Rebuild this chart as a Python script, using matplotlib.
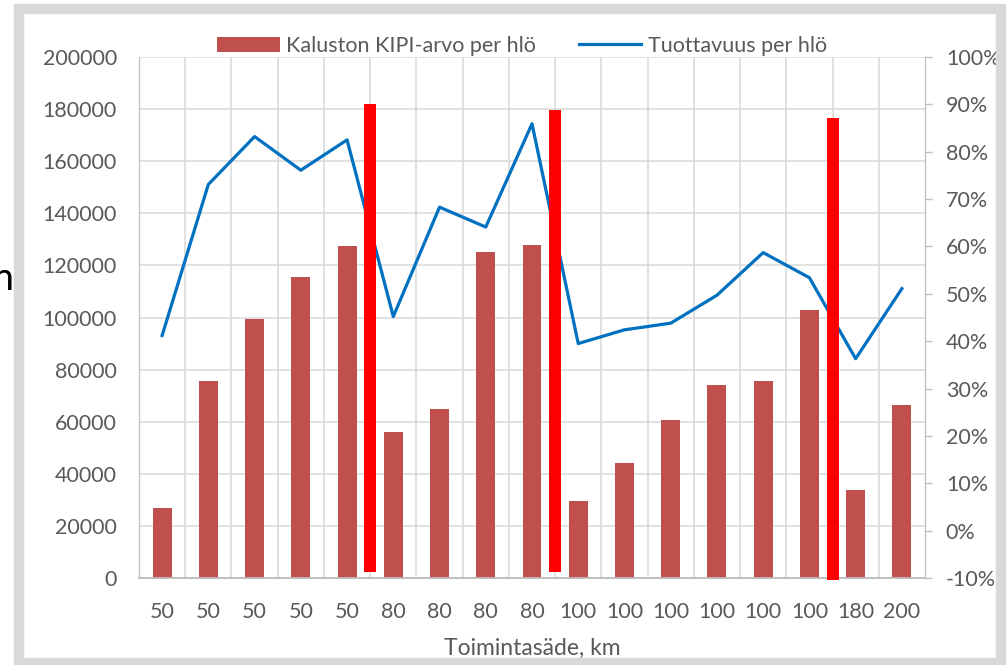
import matplotlib.pyplot as plt
from matplotlib.patches import Rectangle, Patch
from matplotlib.lines import Line2D
from matplotlib.ticker import PercentFormatter

plt.rcParams['font.family'] = ['Lato', 'DejaVu Sans']
plt.rcParams['axes.unicode_minus'] = False

# data
radius_km = ['50', '50', '50', '50', '50', '80', '80', '80', '80',
             '100', '100', '100', '100', '100', '100', '180', '200']
kipi_value = [27000, 75500, 99500, 115500, 127300, 56000, 65000, 125000, 128000,
              29500, 44000, 60500, 74000, 75500, 103000, 33600, 66600]
productivity = [0.412, 0.731, 0.832, 0.761, 0.825, 0.452, 0.683, 0.641, 0.859,
                0.395, 0.424, 0.438, 0.497, 0.587, 0.534, 0.363, 0.511]

# red group separators: placed after category index, top and bottom in left-axis units
sep_after = [4, 8, 14]
sep_top = [182000, 179500, 176700]
sep_bottom = [2200, 2200, -600]

grey_text = '#595959'
grid_col = '#D9D9D9'

fig = plt.figure(figsize=(10.08, 6.65), dpi=100)
ax = fig.add_axes([139 / 1008, 1 - 578 / 665, 786 / 1008, 521 / 665])
ax2 = ax.twinx()

x = list(range(len(radius_km)))
ax.bar(x, kipi_value, width=0.41, color='#C0504D', zorder=3)
ax.set_ylim(0, 200000)
ax.set_yticks(range(0, 200001, 20000))
ax.set_xlim(-0.5, len(radius_km) - 0.5)
ax.set_xticks(x)
ax.set_xticklabels(radius_km)
ax.set_xticks([i + 0.5 for i in x[:-1]], minor=True)

ax.grid(axis='y', which='major', color=grid_col, lw=1.1, zorder=0)
ax.grid(axis='x', which='minor', color=grid_col, lw=1.1, zorder=0)
ax.set_axisbelow(True)
ax.tick_params(axis='both', which='both', length=0, labelsize=15.5, labelcolor=grey_text)
ax.tick_params(axis='y', pad=16)
ax.tick_params(axis='x', pad=17)
ax.set_xlabel('Toimintasäde, km', fontsize=16.5, color=grey_text, labelpad=12)

ax2.plot(x, productivity, color='#0070C0', lw=2.3, zorder=4)
ax2.set_ylim(-0.1, 1.0)
ax2.set_yticks([i / 10 for i in range(-1, 11)])
ax2.yaxis.set_major_formatter(PercentFormatter(1.0, decimals=0))
ax2.tick_params(axis='y', length=5, width=1, color='#BFBFBF', labelsize=15.5,
                labelcolor=grey_text, pad=10)

for a in (ax, ax2):
    a.spines['top'].set_visible(False)
    a.spines['left'].set_color('#BFBFBF')
    a.spines['right'].set_color('#BFBFBF')
    a.spines['bottom'].set_color('#BFBFBF')
    a.spines['bottom'].set_linewidth(1.2)

# red separators drawn on top of the line
ax2.vlines([i + 0.5 for i in sep_after], sep_bottom, sep_top, color='#FF0000',
           lw=8.6, capstyle='butt', transform=ax.transData, zorder=6, clip_on=False)

handles = [Patch(facecolor='#C0504D'), Line2D([], [], color='#0070C0', lw=2.3)]
fig.legend(handles, ['Kaluston KIPI-arvo per hlö', 'Tuottavuus per hlö'],
           loc='center', bbox_to_anchor=(522 / 1008, 1 - 46 / 665), ncol=2,
           frameon=False, fontsize=15.5, labelcolor=grey_text,
           handlelength=2.9, handleheight=0.7, handletextpad=0.3, columnspacing=2.0)

# chart frame
fig.patches.append(Rectangle((19 / 1008, 1 - 663 / 665), 982 / 1008, 654.5 / 665,
                             transform=fig.transFigure, fill=False,
                             edgecolor=grid_col, lw=7.5))

# cut-off letter of the surrounding document text
fig.text(-0.008, 1 - 290 / 665, 'n', fontsize=27, color='black', va='baseline')

plt.savefig('out.png', dpi=100)
